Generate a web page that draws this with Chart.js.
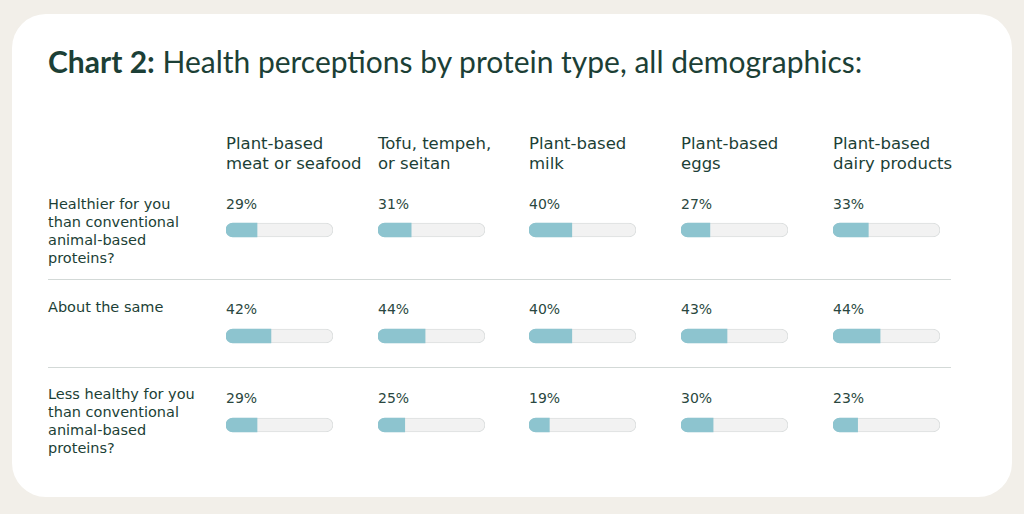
<!DOCTYPE html>
<html>
<head>
<meta charset="utf-8">
<script src="https://cdn.jsdelivr.net/npm/chart.js@4/dist/chart.umd.min.js"></script>
<style>
  html, body { margin: 0; padding: 0; }
  body {
    width: 1024px; height: 514px; background: #f2efe9; overflow: hidden;
    font-family: "DejaVu Sans", sans-serif; color: #1c3f36;
  }
  #card {
    position: absolute; left: 12px; top: 14px; width: 1000px; height: 483px;
    background: #fff; border-radius: 34px;
  }
  .abs { position: absolute; white-space: nowrap; }
  #title { left: 36px; top: 27px; font-size: 30px; line-height: 40px; font-family: Lato, sans-serif; }
  #title b { font-weight: 700; }
  .colhead { font-size: 16.5px; line-height: 20px; }
  .rowlab { font-size: 14.5px; line-height: 18px; }
  .pct { font-size: 14px; line-height: 20px; color: #2a4740; }
  .divider { position: absolute; left: 36px; width: 903px; height: 1px; background: #d3d9d7; }
  canvas { position: absolute; }
</style>
</head>
<body>
<div id="card">
  <div id="title" class="abs"><b>Chart 2:</b> Health perceptions by protein type, all demographics:</div>
</div>
<script>
// column headers (protein types)
const categories = [
  ["Plant-based", "meat or seafood"],
  ["Tofu, tempeh,", "or seitan"],
  ["Plant-based", "milk"],
  ["Plant-based", "eggs"],
  ["Plant-based", "dairy products"]
];

// row labels (perception answers)
const rowLabels = [
  ["Healthier for you", "than conventional", "animal-based", "proteins?"],
  ["About the same"],
  ["Less healthy for you", "than conventional", "animal-based", "proteins?"]
];

// share of respondents, % (one array per row, in column order)
const healthier = [29, 31, 40, 27, 33];
const aboutSame = [42, 44, 40, 43, 44];
const lessHealthy = [29, 25, 19, 30, 23];
const seriesRows = [healthier, aboutSame, lessHealthy];

// layout (card-relative px)
const colX = [214, 366, 517, 669, 821];
const rowLabelY = [181, 284, 371];
const pctY = [180, 285, 374];
const barTop = [209, 315, 404];
const dividerY = [265, 353];

const card = document.getElementById("card");

function addDiv(cls, text, x, y) {
  const d = document.createElement("div");
  d.className = "abs " + cls;
  d.innerHTML = text;
  d.style.left = x + "px";
  d.style.top = y + "px";
  card.appendChild(d);
  return d;
}

categories.forEach((lines, i) => addDiv("colhead", lines.join("<br>"), colX[i], 120));
rowLabels.forEach((lines, r) => addDiv("rowlab", lines.join("<br>"), 36, rowLabelY[r]));
dividerY.forEach(y => {
  const d = document.createElement("div");
  d.className = "divider";
  d.style.top = y + "px";
  card.appendChild(d);
});

const TEAL = "#8dc4cf";
const TRACK = "#f2f2f2";
const TRACK_BORDER = "#dcdfdf";

seriesRows.forEach((vals, r) => {
  vals.forEach((v, c) => {
    addDiv("pct", v + "%", colX[c], pctY[r]);

    const canvas = document.createElement("canvas");
    canvas.width = 109;
    canvas.height = 16;
    canvas.style.left = (colX[c] - 1) + "px";
    canvas.style.top = (barTop[r] - 1) + "px";
    canvas.style.width = "109px";
    canvas.style.height = "16px";
    card.appendChild(canvas);

    new Chart(canvas.getContext("2d"), {
      type: "bar",
      data: {
        labels: [""],
        datasets: [
          {
            data: [v],
            backgroundColor: TEAL,
            borderWidth: 0,
            borderRadius: 7,
            borderSkipped: "end",
            order: 0
          },
          {
            data: [100],
            backgroundColor: TRACK,
            borderColor: TRACK_BORDER,
            borderWidth: 1,
            borderRadius: 7,
            borderSkipped: false,
            order: 1
          }
        ]
      },
      options: {
        indexAxis: "y",
        responsive: false,
        maintainAspectRatio: false,
        animation: false,
        events: [],
        layout: { padding: { left: 1, right: 1, top: 0, bottom: 0 } },
        datasets: { bar: { grouped: false, barThickness: 14 } },
        plugins: { legend: { display: false }, tooltip: { enabled: false } },
        scales: {
          x: { display: false, min: 0, max: 100 },
          y: { display: false }
        }
      }
    });
  });
});
</script>
</body>
</html>
